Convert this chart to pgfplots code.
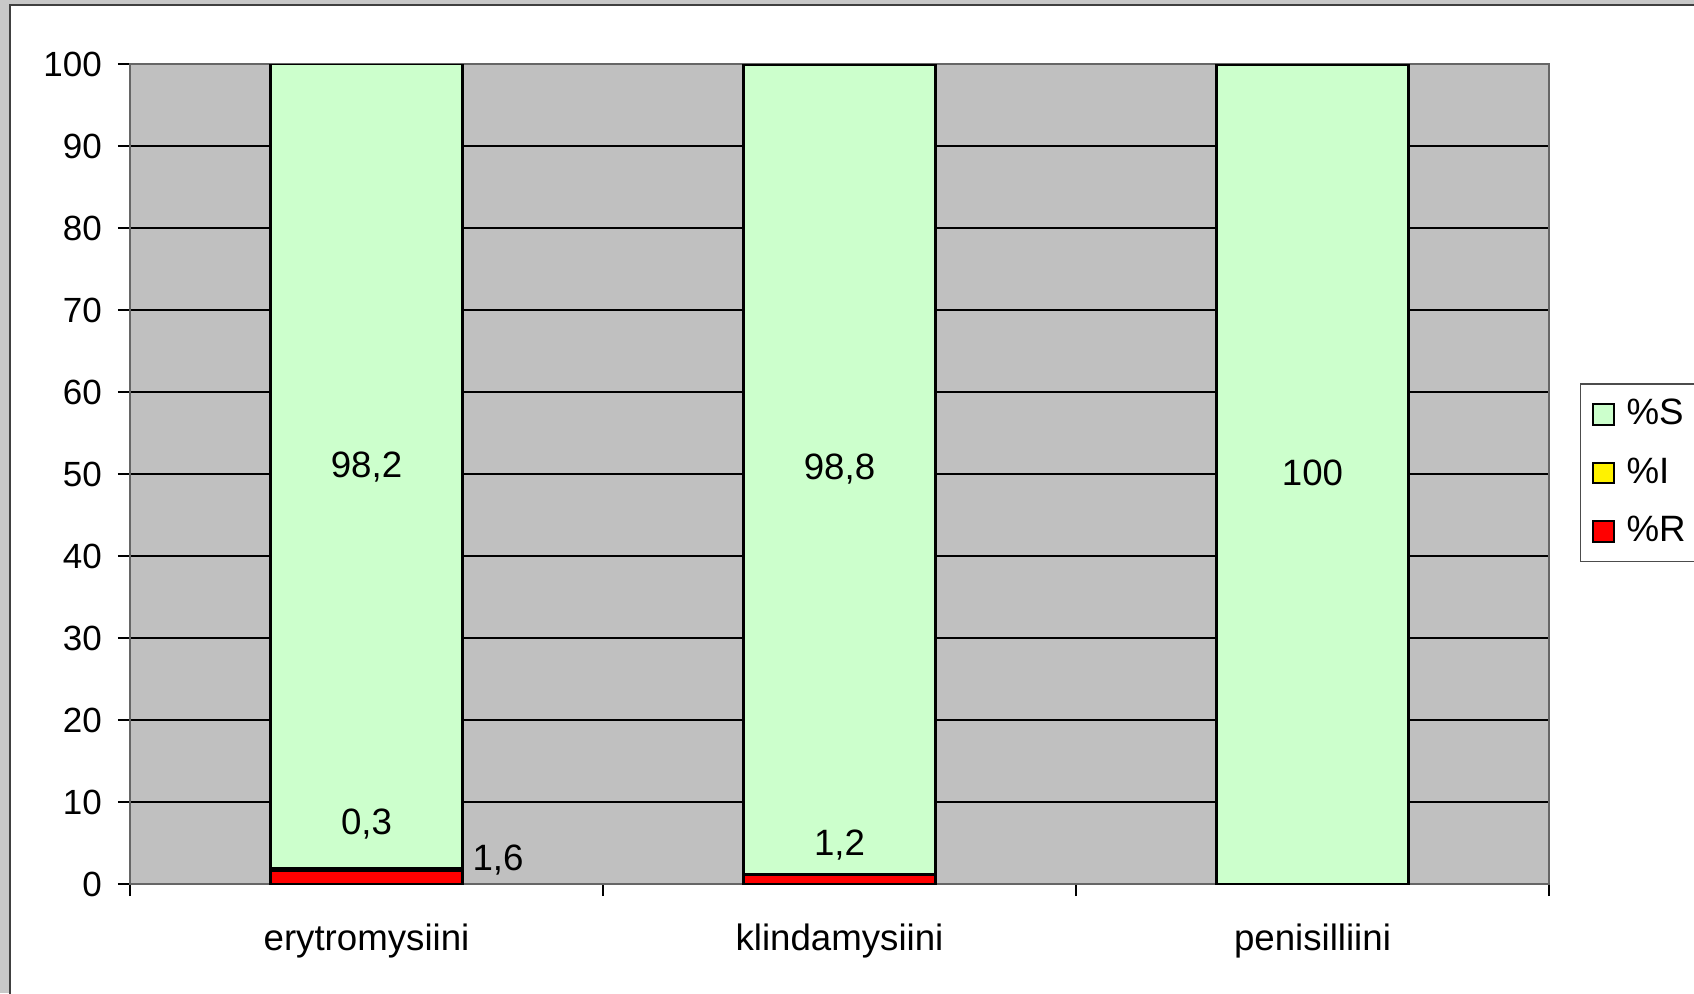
\documentclass[border=0pt]{standalone}
\usepackage{pgfplots}
\pgfplotsset{compat=1.18}
\usepackage{fontspec}
\setmainfont{Liberation Sans}
\definecolor{plotbg}{HTML}{C0C0C0}
\definecolor{sgreen}{HTML}{CCFFCC}
\definecolor{outergray}{HTML}{C8C8C8}
\definecolor{framegray}{HTML}{404040}
\begin{document}
\begin{tikzpicture}[x=1pt,y=1pt]
\fontsize{11}{13.2}\selectfont
\path[use as bounding box] (0,0) rectangle (508.2,297.9);
\fill[outergray] (0,0) rectangle (508.2,297.9);
\filldraw[fill=white,draw=framegray,line width=0.6pt] (3,-5) rectangle (515,296.4);
\begin{axis}[
  at={(39pt,32.7pt)}, anchor=south west,
  scale only axis, width=425.7pt, height=246pt,
  xmin=-0.5, xmax=2.5, ymin=0, ymax=100,
  ybar stacked, bar width=0.406,
  axis background/.style={fill=plotbg},
  axis line style={draw=gray!80!black, line width=0.6pt},
  ytick={0,10,...,100},
  ymajorgrids, grid style={black, line width=0.35pt},
  xtick={-0.5,0.5,1.5,2.5}, xticklabels={},
  extra x ticks={0,1,2},
  extra x tick labels={erytromysiini,klindamysiini,penisilliini},
  extra x tick style={major tick length=0pt, grid=none,
     xticklabel style={yshift=-8pt, font=\fontsize{11}{13.2}\selectfont}},
  tick align=outside, tick pos=left,
  major tick length=3.6pt,
  tick style={black, line width=0.4pt},
  /pgf/number format/assume math mode=true,
  ticklabel style={font=\fontsize{10.5}{12.6}\selectfont},
  yticklabel style={xshift=-1pt},
  legend style={at={(1.0218,0.6104)}, anchor=north west, draw=black!70, fill=white,
     inner xsep=1pt, inner ysep=2.5pt, row sep=4.2pt,
     font=\fontsize{11}{13.2}\selectfont},
  legend cell align=left,
  reverse legend,
  legend image code/.code={\path (0pt,0pt) (9.9pt,0pt);\draw[#1,draw=black,line width=0.6pt] (2.4pt,-3.1pt) rectangle (8.6pt,3.1pt);},
]
\addplot[fill=red, draw=black, line width=0.9pt] coordinates {(0,1.6) (1,1.2) (2,0)};
\addplot[fill=yellow, draw=black, line width=0.9pt] coordinates {(0,0.3) (1,0) (2,0)};
\addplot[fill=sgreen, draw=black, line width=0.9pt] coordinates {(0,98.2) (1,98.8) (2,100)};
\legend{\%R,\%I,\%S}
\coordinate (la) at (axis cs:0,50.8);
\coordinate (lb) at (axis cs:0,7.3);
\coordinate (lc) at (axis cs:0.278,2.9);
\coordinate (ld) at (axis cs:1,50.6);
\coordinate (le) at (axis cs:1,4.8);
\coordinate (lf) at (axis cs:2,50.1);
\end{axis}
\node at (la) {98,2};
\node at (lb) {0,3};
\node at (lc) {1,6};
\node at (ld) {98,8};
\node at (le) {1,2};
\node at (lf) {100};
\end{tikzpicture}
\end{document}
